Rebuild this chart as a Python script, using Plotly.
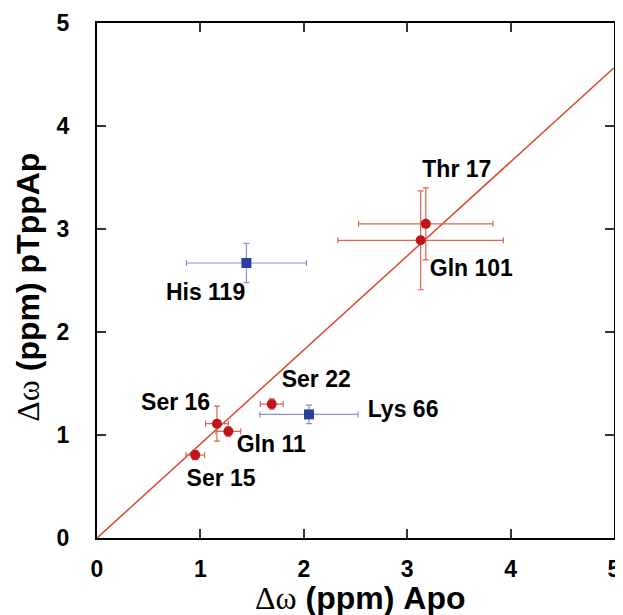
import plotly.graph_objects as go

# Data
red_names = ["Thr 17", "Gln 101", "Ser 22", "Ser 16", "Gln 11", "Ser 15"]
red_x = [3.18, 3.13, 1.69, 1.16, 1.27, 0.95]
red_y = [3.05, 2.89, 1.30, 1.11, 1.035, 0.805]
red_xerr = [0.65, 0.80, 0.11, 0.11, 0.12, 0.09]
red_yerr = [0.35, 0.48, 0.05, 0.17, 0.045, 0.045]

blue_names = ["His 119", "Lys 66"]
blue_x = [1.445, 2.05]
blue_y = [2.67, 1.20]
blue_xerr = [0.58, 0.475]
blue_yerr = [0.19, 0.09]

fit_slope = 0.913
fit_x = [0, 5]

label_x = [3.48, 3.62, 2.12, 0.76, 1.685, 1.20, 1.05, 2.96]
label_y = [3.56, 2.60, 1.52, 1.30, 0.89, 0.56, 2.37, 1.23]
label_text = red_names + blue_names

tick_vals = [0, 1, 2, 3, 4, 5]

RED = "#c0141e"
RED_ERR = "#e0654e"
LINE = "#d6492f"
BLUE = "#2b3f9e"
BLUE_ERR = "#8a8fd0"
SANS = "Liberation Sans, Arial"

fig = go.Figure()

fig.add_trace(go.Scatter(
    x=fit_x, y=[fit_slope * v for v in fit_x], mode="lines",
    line=dict(color=LINE, width=1.5), showlegend=False, hoverinfo="skip"))

fig.add_trace(go.Scatter(
    x=red_x, y=red_y, mode="markers",
    marker=dict(color=RED, size=10, symbol="circle"),
    error_x=dict(type="data", array=red_xerr, color=RED_ERR, thickness=1.2, width=3),
    error_y=dict(type="data", array=red_yerr, color=RED_ERR, thickness=1.2, width=3),
    showlegend=False))

fig.add_trace(go.Scatter(
    x=blue_x, y=blue_y, mode="markers",
    marker=dict(color=BLUE, size=10, symbol="square"),
    error_x=dict(type="data", array=blue_xerr, color=BLUE_ERR, thickness=1.2, width=3),
    error_y=dict(type="data", array=blue_yerr, color=BLUE_ERR, thickness=1.2, width=3),
    showlegend=False))

fig.add_trace(go.Scatter(
    x=label_x, y=label_y, mode="text", text=["<b>%s</b>" % t for t in label_text],
    textfont=dict(family=SANS, size=23, color="black"),
    textposition="middle center", showlegend=False, hoverinfo="skip"))

axis_common = dict(
    range=[0, 5], tickvals=tick_vals, ticktext=["<b>%d</b>" % v for v in tick_vals],
    ticks="inside", ticklen=9, tickwidth=1.5, tickcolor="#333",
    showline=True, linecolor="black", linewidth=2, mirror="ticks",
    showgrid=False, zeroline=False, automargin=False,
    tickfont=dict(family=SANS, size=23, color="black"),
)

greek = '<span style="font-family:Liberation Serif, Times New Roman; font-weight:normal">Δω</span>'

fig.update_layout(
    width=623, height=615,
    margin=dict(l=89, r=17, t=15, b=85),
    plot_bgcolor="white", paper_bgcolor="white",
    xaxis=dict(**axis_common, ticklabelstandoff=9),
    yaxis=dict(**axis_common, ticklabelstandoff=21),
    annotations=[
        dict(text=greek + " <b>(ppm) Apo</b>", xref="paper", yref="paper",
             x=0.509, y=0, yshift=-60, xanchor="center", yanchor="middle",
             showarrow=False, font=dict(family=SANS, size=32, color="black")),
        dict(text=greek + " <b>(ppm) pTppAp</b>", xref="paper", yref="paper",
             x=0, y=0.486, xshift=-69, xanchor="center", yanchor="middle",
             textangle=-90, showarrow=False,
             font=dict(family=SANS, size=32, color="black")),
    ],
)

fig.write_html("out.html")
